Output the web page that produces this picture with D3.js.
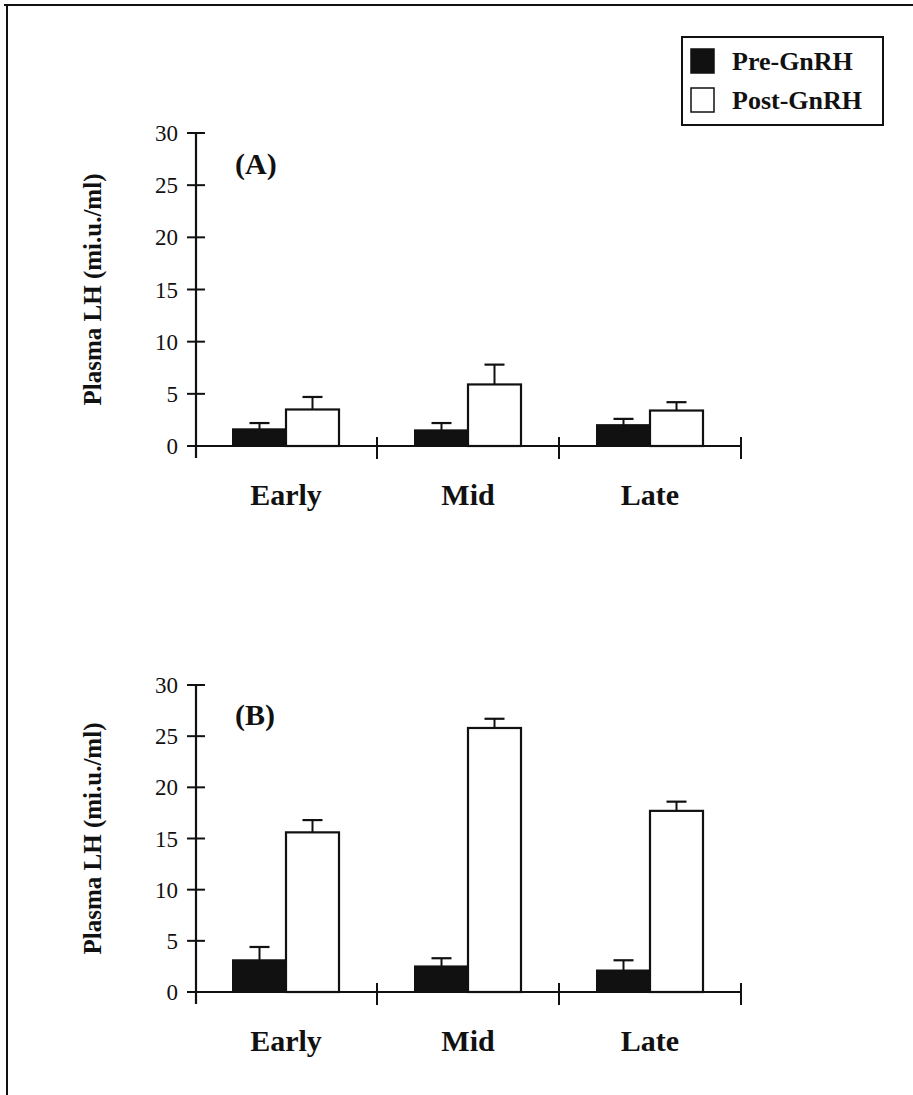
<!DOCTYPE html>
<html>
<head>
<meta charset="utf-8">
<script src="https://cdn.jsdelivr.net/npm/d3@7"></script>
<style>
  html, body { margin: 0; padding: 0; background: #fff; }
  svg text { font-family: 'Liberation Serif', 'Times New Roman', serif; fill: #111; }
</style>
</head>
<body>
<div id="chart"></div>
<script>
const categories = ['Early', 'Mid', 'Late'];
const seriesNames = ['Pre-GnRH', 'Post-GnRH'];
const yTicks = [0, 5, 10, 15, 20, 25, 30];

// panel A
const preA = [1.6, 1.5, 2.0];
const preErrA = [0.6, 0.7, 0.6];
const postA = [3.5, 5.9, 3.4];
const postErrA = [1.2, 1.9, 0.8];

// panel B
const preB = [3.1, 2.5, 2.1];
const preErrB = [1.3, 0.8, 1.0];
const postB = [15.6, 25.8, 17.7];
const postErrB = [1.2, 0.9, 0.9];

const width = 913, height = 1095;
const ink = '#111';

const svg = d3.select('#chart').append('svg')
  .attr('width', width)
  .attr('height', height);

// scanned frame: top and left edges only
svg.append('line')
  .attr('x1', 4).attr('x2', width).attr('y1', 5).attr('y2', 5)
  .attr('stroke', ink).attr('stroke-width', 2);
svg.append('line')
  .attr('x1', 7).attr('x2', 7).attr('y1', 5).attr('y2', height)
  .attr('stroke', ink).attr('stroke-width', 2);

// legend
const legend = svg.append('g').attr('transform', 'translate(682,37)');
legend.append('rect')
  .attr('width', 201).attr('height', 88)
  .attr('fill', '#fff').attr('stroke', ink).attr('stroke-width', 2);
seriesNames.forEach((name, i) => {
  const row = legend.append('g').attr('transform', `translate(9,${12 + i * 39})`);
  row.append('rect')
    .attr('width', 23).attr('height', 24)
    .attr('fill', i === 0 ? ink : '#fff')
    .attr('stroke', ink).attr('stroke-width', 1.5);
  row.append('text')
    .attr('x', 41).attr('y', 12)
    .attr('dy', '0.35em')
    .attr('font-weight', 'bold')
    .attr('font-size', 26)
    .text(name);
});

function drawPanel(cfg) {
  const { top, bottom, label, pre, preErr, post, postErr } = cfg;

  const x = d3.scaleBand().domain(categories).range([195, 741]).padding(0);
  const y = d3.scaleLinear().domain([0, 30]).range([bottom, top]);
  const bw = 53;
  const axisX = 196;

  const g = svg.append('g');

  // y axis
  g.append('line')
    .attr('x1', axisX).attr('x2', axisX)
    .attr('y1', y(30)).attr('y2', y(0) + 12)
    .attr('stroke', ink).attr('stroke-width', 2.2);
  g.selectAll('.ytick').data(yTicks).enter().append('line')
    .attr('class', 'ytick')
    .attr('x1', axisX - 9).attr('x2', axisX + 9)
    .attr('y1', d => y(d)).attr('y2', d => y(d))
    .attr('stroke', ink).attr('stroke-width', 2);
  g.selectAll('.ylab').data(yTicks).enter().append('text')
    .attr('class', 'ylab')
    .attr('x', 178).attr('y', d => y(d))
    .attr('dy', '0.35em')
    .attr('text-anchor', 'end')
    .attr('font-size', 23)
    .text(d => d);

  // y title
  g.append('text')
    .attr('transform', `translate(101,${(y(0) + y(30)) / 2}) rotate(-90)`)
    .attr('text-anchor', 'middle')
    .attr('font-weight', 'bold')
    .attr('font-size', 25)
    .text('Plasma LH (mi.u./ml)');

  // panel tag
  g.append('text')
    .attr('x', 235).attr('y', y(27.1))
    .attr('dy', '0.35em')
    .attr('font-weight', 'bold')
    .attr('font-size', 30)
    .text(label);

  // bars
  const rows = categories.map((c, i) => ({ c, pre: pre[i], preErr: preErr[i], post: post[i], postErr: postErr[i] }));
  const cx = d => x(d.c) + x.bandwidth() / 2;

  const errBar = (sel, xf, vf, ef) => {
    sel.append('line')
      .attr('x1', xf).attr('x2', xf)
      .attr('y1', d => y(vf(d))).attr('y2', d => y(vf(d) + ef(d)))
      .attr('stroke', ink).attr('stroke-width', 2);
    sel.append('line')
      .attr('x1', d => xf(d) - 10).attr('x2', d => xf(d) + 10)
      .attr('y1', d => y(vf(d) + ef(d))).attr('y2', d => y(vf(d) + ef(d)))
      .attr('stroke', ink).attr('stroke-width', 2.2);
  };

  const grp = g.selectAll('.grp').data(rows).enter().append('g').attr('class', 'grp');
  errBar(grp, d => cx(d) - bw / 2, d => d.pre, d => d.preErr);
  errBar(grp, d => cx(d) + bw / 2, d => d.post, d => d.postErr);

  grp.append('rect')
    .attr('x', d => cx(d) - bw).attr('width', bw)
    .attr('y', d => y(d.pre)).attr('height', d => y(0) - y(d.pre))
    .attr('fill', ink).attr('stroke', ink).attr('stroke-width', 2);
  grp.append('rect')
    .attr('x', d => cx(d)).attr('width', bw)
    .attr('y', d => y(d.post)).attr('height', d => y(0) - y(d.post))
    .attr('fill', '#fff').attr('stroke', ink).attr('stroke-width', 2.2);

  // x axis with dividers
  g.append('line')
    .attr('x1', axisX).attr('x2', x.range()[1])
    .attr('y1', y(0)).attr('y2', y(0))
    .attr('stroke', ink).attr('stroke-width', 2.2);
  g.selectAll('.xdiv').data(categories).enter().append('line')
    .attr('class', 'xdiv')
    .attr('x1', d => x(d) + x.bandwidth()).attr('x2', d => x(d) + x.bandwidth())
    .attr('y1', y(0) - 9).attr('y2', y(0) + 13)
    .attr('stroke', ink).attr('stroke-width', 2);
  g.selectAll('.xlab').data(categories).enter().append('text')
    .attr('class', 'xlab')
    .attr('x', d => x(d) + x.bandwidth() / 2)
    .attr('y', y(0) + 59)
    .attr('text-anchor', 'middle')
    .attr('font-weight', 'bold')
    .attr('font-size', 30)
    .text(d => d);
}

drawPanel({ top: 133, bottom: 446, label: '(A)', pre: preA, preErr: preErrA, post: postA, postErr: postErrA });
drawPanel({ top: 685, bottom: 992, label: '(B)', pre: preB, preErr: preErrB, post: postB, postErr: postErrB });
</script>
</body>
</html>
